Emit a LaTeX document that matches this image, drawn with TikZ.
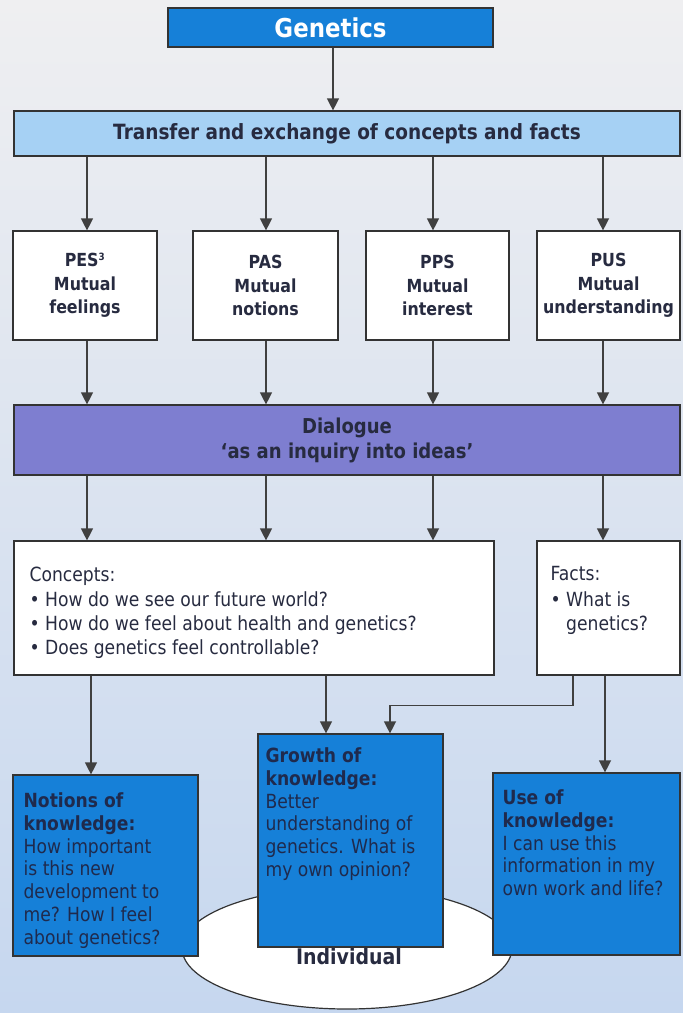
\documentclass[tikz,border=0pt]{standalone}
\usepackage{fontspec}
\setmainfont{DejaVu Sans}[FakeStretch=0.88]
\usetikzlibrary{arrows.meta,shapes.geometric,calc}
\definecolor{bgtop}{HTML}{EFEFF1}
\definecolor{bgbot}{HTML}{C6D7EF}
\definecolor{kblue}{HTML}{1680D8}
\definecolor{lblue}{HTML}{A6D1F4}
\definecolor{dlg}{HTML}{7E7ED0}
\definecolor{linec}{HTML}{404040}
\definecolor{boxb}{HTML}{333333}
\definecolor{txt}{HTML}{272B40}
\definecolor{btxt}{HTML}{1F2A4D}
\tikzset{
  conn/.style={draw=linec, line width=1.3pt},
  arr/.style={conn, -{Triangle[width=12pt,length=12pt]}},
  frame/.style={draw=boxb, line width=1.2pt, inner sep=0pt},
  wbox/.style={frame, fill=white},
  bbox/.style={frame, fill=kblue},
  bigtxt/.style={font=\bfseries\fontsize{21}{25}\selectfont, text=txt},
  ptxt/.style={align=center, font=\bfseries\fontsize{18}{23.5}\selectfont, text=txt},
  bodytxt/.style={anchor=north west, inner sep=0pt, align=left, text=btxt, font=\fontsize{19.5}{22.8}\selectfont},
  wtxt/.style={anchor=north west, inner sep=0pt, align=left, text=txt, font=\fontsize{19.5}{24.2}\selectfont},
}
\begin{document}
\begin{tikzpicture}[x=1pt,y=-1pt]
\useasboundingbox (0,0) rectangle (683,1013);
\shade[top color=bgtop, bottom color=bgbot] (0,0) rectangle (683,1013);

% ellipse behind the bottom boxes
\node[draw=boxb, line width=1.2pt, fill=white, ellipse, minimum width=330pt, minimum height=122pt] (ind) at (347,948) {};
\node[text=txt, font=\bfseries\fontsize{21.5}{25}\selectfont] (indt) at (349,956) {Individual};

% top
\node[frame, fill=kblue, minimum width=325pt, minimum height=39pt, text=white, font=\bfseries\fontsize{26}{28}\selectfont] (gen) at (330.5,27.5) {Genetics};
\node[frame, fill=lblue, minimum width=666pt, minimum height=45pt, bigtxt] (tr) at (347,133.5) {Transfer and exchange of concepts and facts};

% four boxes
\node[wbox, minimum width=144pt, minimum height=109pt, ptxt] (pes) at (85,285.5) {PES\textsuperscript{\fontsize{10}{10}\selectfont 3}\\Mutual\\feelings};
\node[wbox, minimum width=145pt, minimum height=109pt, ptxt] (pas) at (265.5,285.5) {PAS\\Mutual\\notions};
\node[wbox, minimum width=143pt, minimum height=109pt, ptxt] (pps) at (437.5,285.5) {PPS\\Mutual\\interest};
\node[wbox, minimum width=143pt, minimum height=109pt, ptxt] (pus) at (608.5,285.5) {PUS\\Mutual\\understanding};

% dialogue
\node[frame, fill=dlg, minimum width=666pt, minimum height=70pt, align=center, text=txt, font=\bfseries\fontsize{20.5}{25}\selectfont] (dia) at (347,440) {Dialogue\\‘as an inquiry into ideas’};

% concepts / facts
\node[wbox, minimum width=480pt, minimum height=134pt] (con) at (254,608) {};
\node[wtxt] (cont) at ([shift={(16,26)}]con.north west) {Concepts:\\[1pt]%
\textbullet\ How do we see our future world?\\
\textbullet\ How do we feel about health and genetics?\\
\textbullet\ Does genetics feel controllable?};
\node[wbox, minimum width=143pt, minimum height=134pt] (fac) at (608.5,608) {};
\node[wtxt] (fact) at ([shift={(14,26)}]fac.north west) {Facts:\\[1pt]%
\textbullet\ What is\\
\hphantom{\textbullet\ }genetics?};

% bottom blue boxes
\node[bbox, minimum width=185pt, minimum height=181pt] (not) at (105.5,865.5) {};
\node[bodytxt] (nott) at ([shift={(11,18)}]not.north west) {\textbf{Notions of}\\\textbf{knowledge:}\\How important\\is this new\\development to\\me? How I feel\\about genetics?};
\node[bbox, minimum width=185pt, minimum height=213pt] (gro) at (350.5,840.5) {};
\node[bodytxt] (grot) at ([shift={(8,14)}]gro.north west) {\textbf{Growth of}\\\textbf{knowledge:}\\Better\\understanding of\\genetics. What is\\my own opinion?};
\node[bbox, minimum width=187pt, minimum height=182pt] (use) at (586.5,864) {};
\node[bodytxt] (uset) at ([shift={(10,17)}]use.north west) {\textbf{Use of}\\\textbf{knowledge:}\\I can use this\\information in my\\own work and life?};

% connectors
\draw[arr] ([xshift=2.5pt]gen.south) -- ([xshift=2.5pt]gen.south |- tr.north);
\foreach \b/\dx in {pes/2,pas/0.5,pps/-4.5,pus/-5.5}{
  \draw[arr] ([xshift=\dx pt]\b.north |- tr.south) -- ([xshift=\dx pt]\b.north);
  \draw[arr] ([xshift=\dx pt]\b.south) -- ([xshift=\dx pt]\b.south |- dia.north);
}
\foreach \b/\dx in {pes/2,pas/0.5,pps/-4.5}{
  \draw[arr] ([xshift=\dx pt]\b.south |- dia.south) -- ([xshift=\dx pt]\b.south |- con.north);
}
\draw[arr] ([xshift=-5.5pt]pus.south |- dia.south) -- ([xshift=-5.5pt]fac.north);
\draw[arr] ([xshift=-14.5pt]not.north |- con.south) -- ([xshift=-14.5pt]not.north);
\draw[arr] ([xshift=-24.5pt]gro.north |- con.south) -- ([xshift=-24.5pt]gro.north);
\draw[arr] ([xshift=-35.5pt]fac.south) -- ++(0,30) -| ([xshift=39.5pt]gro.north);
\draw[arr] ([xshift=18.5pt]use.north |- fac.south) -- ([xshift=18.5pt]use.north);
\end{tikzpicture}
\end{document}
